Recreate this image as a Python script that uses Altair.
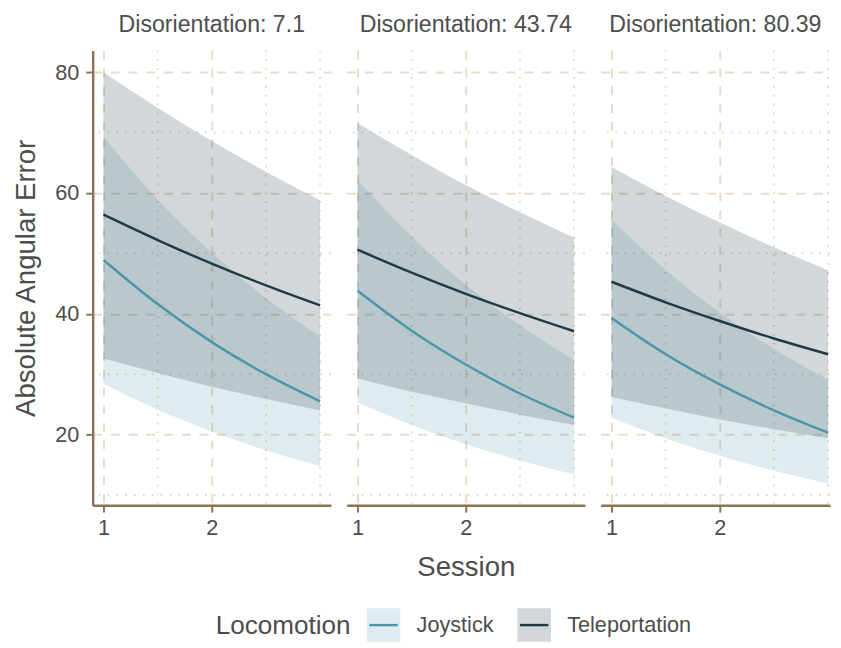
import altair as alt
import pandas as pd

# ---------------- data ----------------
sessions = [1.0, 1.5, 2.0, 2.5, 3.0]
disorientation = [7.1, 43.74, 80.39]
locomotion = ["Joystick", "Teleportation"]

joy_est = [
    [48.9, 41.6, 35.3, 30.0, 25.5],
    [43.8, 37.2, 31.6, 26.8, 22.8],
    [39.3, 33.3, 28.3, 24.0, 20.3],
]
joy_lo = [
    [28.4, 24.1, 20.5, 17.4, 14.8],
    [25.3, 21.6, 18.4, 15.7, 13.4],
    [22.8, 19.4, 16.5, 14.0, 11.9],
]
joy_hi = [
    [69.3, 58.9, 50.1, 42.6, 36.2],
    [62.1, 52.8, 44.8, 38.1, 32.4],
    [55.6, 47.3, 40.2, 34.2, 29.1],
]
tel_est = [
    [56.4, 52.2, 48.3, 44.7, 41.4],
    [50.6, 46.8, 43.3, 40.1, 37.1],
    [45.3, 41.9, 38.8, 35.9, 33.3],
]
tel_lo = [
    [32.6, 30.2, 27.9, 25.9, 24.0],
    [29.3, 27.1, 25.2, 23.3, 21.6],
    [26.2, 24.3, 22.5, 20.9, 19.4],
]
tel_hi = [
    [80.0, 74.1, 68.6, 63.5, 58.8],
    [71.6, 66.3, 61.3, 56.8, 52.6],
    [64.3, 59.5, 55.1, 51.0, 47.2],
]
x_ticks = [1, 2]
y_ticks = [20, 40, 60, 80]
x_minor = [1.5, 2.5, 3]
y_minor = [10, 30, 50, 70]

rows = []
for i, d in enumerate(disorientation):
    for loco, est, lo, hi in [
        ("Joystick", joy_est[i], joy_lo[i], joy_hi[i]),
        ("Teleportation", tel_est[i], tel_lo[i], tel_hi[i]),
    ]:
        for s, e, l, h in zip(sessions, est, lo, hi):
            rows.append({"Disorientation": d, "Locomotion": loco,
                         "Session": s, "est": e, "lo": l, "hi": h})
df = pd.DataFrame(rows)

# ---------------- styling ----------------
FONT = "Liberation Sans"
TXT = "#4d4d4d"
GRID = "#eadbc8"
BROWN = "#8b7355"
FILLS = ["rgba(77,150,169,0.18)", "rgba(31,59,71,0.2)"]
STROKES = ["#4d96a9", "#1f3b47"]
PX_PER_UNIT = 110
PH = 462
# the last panel is cut at the right edge of the picture, as in the reference
X_DOMAINS = [[0.9, 3.1], [0.9, 3.1], [0.9, 0.9 + 233 / PX_PER_UNIT]]
YS = alt.Scale(domain=[8.3, 83.6], nice=False, zero=False)

LEG = alt.Legend(
    title="Locomotion", orient="none", legendX=125, legendY=565,
    direction="horizontal", titleOrient="left", titleAnchor="middle",
    titleBaseline="middle",
    titleFontSize=26.5, titleFont=FONT, titleColor=TXT, titleFontWeight="normal",
    titlePadding=14,
    labelFontSize=22, labelFont=FONT, labelColor=TXT, labelOffset=15,
    columnPadding=18,
    symbolType="M-0.85,0L1,0L1,1L-1,1L-1,-1L1,-1L1,0Z",
    symbolSize=1156, symbolStrokeWidth=2.5, symbolDash=[28.9, 500],
)


def panel(i):
    d = disorientation[i]
    sub = df[df["Disorientation"] == d]
    dom = X_DOMAINS[i]
    XS = alt.Scale(domain=dom, nice=False, zero=False)
    width = round((dom[1] - dom[0]) * PX_PER_UNIT)
    xaxis = alt.Axis(
        values=x_ticks, title="Session" if i == 1 else "",
        grid=True, gridColor=GRID, gridDash=[9, 9], gridWidth=2,
        domainColor=BROWN, domainWidth=2.5, tickColor=BROWN, tickWidth=2,
        tickSize=7, labelFontSize=22, labelColor=TXT, labelPadding=6,
        labelFont=FONT, titleFontSize=28, titleColor=TXT,
        titleFontWeight="normal", titlePadding=15, titleFont=FONT,
    )
    if i == 0:
        yaxis = alt.Axis(
            values=y_ticks, title="Absolute Angular Error", grid=True,
            gridColor=GRID, gridDash=[9, 9], gridWidth=2,
            domainColor=BROWN, domainWidth=2.5, tickColor=BROWN, tickWidth=2,
            tickSize=7, labelFontSize=22, labelColor=TXT, labelPadding=7,
            labelFont=FONT, titleFontSize=28, titleColor=TXT,
            titleFontWeight="normal", titlePadding=15, titleFont=FONT,
        )
    else:
        yaxis = alt.Axis(
            values=y_ticks, title="", labels=False, ticks=False, domain=False,
            grid=True, gridColor=GRID, gridDash=[9, 9], gridWidth=2,
        )

    minor_x = alt.Chart(pd.DataFrame({"v": x_minor})).mark_rule(
        color=GRID, strokeWidth=2, strokeDash=[2, 7]
    ).encode(x=alt.X("v:Q", scale=XS, axis=xaxis))
    minor_y = alt.Chart(pd.DataFrame({"v": y_minor})).mark_rule(
        color=GRID, strokeWidth=2, strokeDash=[2, 7]
    ).encode(y=alt.Y("v:Q", scale=YS, axis=yaxis))

    area = alt.Chart(sub).mark_area(interpolate="monotone").encode(
        x=alt.X("Session:Q", scale=XS, axis=xaxis),
        y=alt.Y("lo:Q", scale=YS, axis=yaxis, stack=None),
        y2="hi:Q",
        fill=alt.Fill("Locomotion:N",
                      scale=alt.Scale(domain=locomotion, range=FILLS),
                      legend=LEG),
    )
    line = alt.Chart(sub).mark_line(interpolate="monotone", strokeWidth=2.5).encode(
        x=alt.X("Session:Q", scale=XS, axis=xaxis),
        y=alt.Y("est:Q", scale=YS, axis=yaxis),
        stroke=alt.Stroke("Locomotion:N",
                          scale=alt.Scale(domain=locomotion, range=STROKES),
                          legend=LEG),
    )
    return alt.layer(minor_x, minor_y, area, line).properties(
        width=width, height=PH,
        title=alt.TitleParams(
            text=f"Disorientation: {d}", fontSize=23.5, font=FONT, color=TXT,
            fontWeight="normal", offset=13, anchor="middle",
        ),
    )


chart = alt.hconcat(panel(0), panel(1), panel(2), spacing=14).resolve_scale(
    fill="shared", stroke="shared"
).properties(
    padding={"left": 4, "top": 0, "right": 0, "bottom": 0}
).configure(font=FONT).configure_view(stroke=None)

chart.save("out.html", embed_options={"renderer": "svg", "actions": False})
